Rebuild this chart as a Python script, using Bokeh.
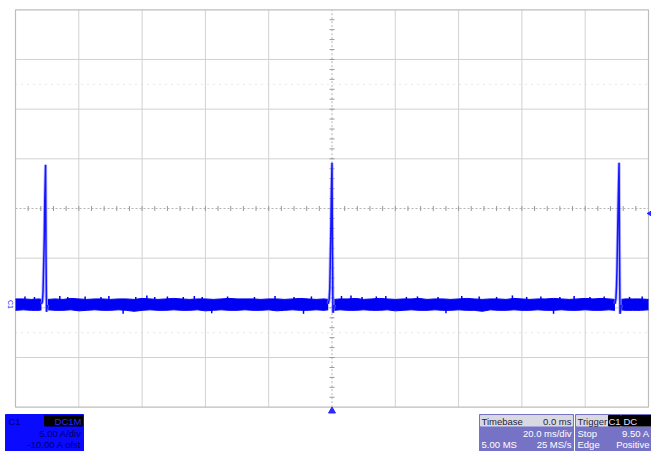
import math
from bokeh.plotting import figure
from bokeh.models import Range1d
from bokeh.core.properties import value
from bokeh.embed import file_html
from bokeh.resources import INLINE

# ---------------- data ----------------
ms_per_div = 20.0
amps_per_div = 5.0
time_ticks = [-100, -80, -60, -40, -20, 0, 20, 40, 60, 80, 100]      # ms, 10 divisions
amp_ticks = [-10, -5, 0, 5, 10, 15, 20, 25, 30]                      # A, 8 divisions (offset -10 A)
marker_levels = [22.5, -2.5]
trigger_time = 0.0
trigger_level = 9.5

spike_peaks = [-90.5, 0.0, 90.7]

spike1_t = [-91.8, -91.5, -91.3, -91.15, -90.9, -90.75, -90.5, -90.35, -90.2, -89.9]
spike1_a = [0.4, 0.6, 1.6, 3.6, 7.1, 10.8, 14.4, 5.0, -0.4, 0.3]
spike2_t = [-1.2, -0.9, -0.7, -0.55, -0.35, -0.2, 0.0, 0.15, 0.3, 0.7]
spike2_a = [0.4, 0.8, 2.0, 4.5, 8.0, 11.5, 14.6, 6.0, -0.5, 0.3]
spike3_t = [89.4, 89.7, 89.9, 90.05, 90.25, 90.45, 90.7, 90.85, 91.0, 91.4]
spike3_a = [0.4, 0.9, 2.2, 4.0, 7.5, 11.0, 14.6, 5.5, -0.6, 0.3]

band_t = [-100, -97.5, -95, -92.5, -91.8,
          -89.8, -87.5, -85, -82.5, -80, -77.5, -75, -72.5, -70, -67.5, -65, -62.5,
          -60, -57.5, -55, -52.5, -50, -47.5, -45, -42.5, -40, -37.5, -35, -32.5,
          -30, -27.5, -25, -22.5, -20, -17.5, -15, -12.5, -10, -7.5, -5, -2.5, -1.2,
          0.7, 2.5, 5, 7.5, 10, 12.5, 15, 17.5, 20, 22.5, 25, 27.5, 30, 32.5, 35, 37.5,
          40, 42.5, 45, 47.5, 50, 52.5, 55, 57.5, 60, 62.5, 65, 67.5, 70, 72.5, 75,
          77.5, 80, 82.5, 85, 87.5, 89.4,
          91.4, 92.5, 95, 97.5, 100]
band_hi = [0.9, 0.9, 0.85, 0.9, 0.85,
           0.85, 0.9, 0.85, 0.95, 0.9, 0.85, 0.9, 0.9, 0.85, 0.9, 0.9, 0.85, 0.95, 0.9, 0.85,
           0.9, 0.95, 0.9, 0.85, 0.9, 0.9, 0.85, 0.9, 0.95, 0.9, 0.9, 0.9, 0.85, 0.9, 0.9,
           0.85, 0.9, 0.95, 0.9, 0.85, 0.9, 0.85,
           0.85, 0.9, 0.9, 0.95, 0.85, 0.9, 0.95, 0.9, 0.85, 0.9, 0.9, 0.95, 0.85, 0.9, 0.9,
           0.85, 0.9, 0.95, 0.9, 0.85, 0.9, 0.9, 0.85, 0.95, 0.9, 0.85, 0.9, 0.9, 0.95, 0.9,
           0.85, 0.9, 0.95, 0.9, 0.95, 0.9, 0.85,
           0.85, 0.9, 0.9, 0.9, 0.85]
band_lo = [-0.25, -0.2, -0.25, -0.25, -0.2,
           -0.2, -0.25, -0.25, -0.2, -0.3, -0.25, -0.2, -0.25, -0.25, -0.2, -0.25, -0.35, -0.25,
           -0.2, -0.25, -0.25, -0.2, -0.25, -0.25, -0.2, -0.3, -0.25, -0.2, -0.25, -0.25, -0.2,
           -0.25, -0.25, -0.2, -0.3, -0.25, -0.2, -0.25, -0.25, -0.2, -0.25, -0.2,
           -0.25, -0.2, -0.25, -0.25, -0.2, -0.25, -0.25, -0.2, -0.3, -0.25, -0.2, -0.25, -0.25,
           -0.2, -0.25, -0.25, -0.2, -0.25, -0.25, -0.35, -0.2, -0.25, -0.25, -0.2, -0.25, -0.25,
           -0.2, -0.25, -0.25, -0.2, -0.25, -0.25, -0.2, -0.25, -0.25, -0.2, -0.25,
           -0.2, -0.25, -0.25, -0.25, -0.2]
assert len(band_t) == len(band_hi) == len(band_lo)

# small noise glitches sticking out of the baseline band
glitch_t = [-97.0, -94.0, -86.0, -83.5, -78.0, -73.0, -70.5, -62.0, -58.5, -56.0, -52.0, -47.0,
            -43.5, -41.0, -33.0, -24.5, -18.0, -12.0, -6.5, 3.0, 6.0, 9.5, 14.0, 17.0, 23.5, 27.0,
            33.5, 41.0, 46.5, 52.0, 57.0, 61.5, 66.0, 72.0, 76.5, 81.5, 86.0, 94.0, 98.0]
glitch_a = [1.15, 1.1, 1.2, 1.1, 1.15, 1.1, 1.2, 1.1, 1.25, 1.1, 1.15, 1.1,
            1.2, 1.1, 1.15, 1.1, 1.2, 1.1, 1.15, 1.2, 1.25, 1.1, 1.15, 1.2, 1.1, 1.15,
            1.1, 1.2, 1.15, 1.1, 1.25, 1.1, 1.15, 1.1, 1.2, 1.1, 1.15, 1.1, 1.15]
dip_t = [-66.0, -38.0, -9.0, 36.0, 70.0]
dip_a = [-0.6, -0.55, -0.6, -0.55, -0.6]

channel_label = "C1"
channel_chip = "DC1M"
channel_rows = ["5.00 A/div", "-10.00 A ofst"]
timebase_header = ["Timebase", "0.0 ms"]
timebase_row2 = "20.0 ms/div"
timebase_row3 = ["5.00 MS", "25 MS/s"]
trigger_header = "Trigger"
trigger_chips = ["C1", "DC"]
trigger_row2 = ["Stop", "9.50 A"]
trigger_row3 = ["Edge", "Positive"]

# ---------------- layout ----------------
W, H = 651, 451
GL, GR, GT, GB = 15.0, 648.0, 9.3, 406.7          # grid box in canvas pixels
px_ms = (GR - GL) / (time_ticks[-1] - time_ticks[0])
px_A = (GB - GT) / (amp_ticks[-1] - amp_ticks[0])
x_start = time_ticks[0] - GL / px_ms
x_end = time_ticks[-1] + (W - GR) / px_ms
y_end = amp_ticks[-1] + GT / px_A
y_start = amp_ticks[0] - (H - GB) / px_A


def X(px):
    return x_start + px / px_ms


def Y(py):
    return y_end - py / px_A


p = figure(width=W, height=H, x_range=Range1d(x_start, x_end), y_range=Range1d(y_start, y_end),
           output_backend="svg", toolbar_location=None, min_border=0,
           x_axis_type=None, y_axis_type=None, outline_line_color=None,
           background_fill_color="white", border_fill_color="white")

t0, t1 = time_ticks[0], time_ticks[-1]
a0, a1 = amp_ticks[0], amp_ticks[-1]
center_t = time_ticks[len(time_ticks) // 2]
center_a = amp_ticks[len(amp_ticks) // 2]
GRID = "#d2d2d2"

# grid lines
vx = [t for t in time_ticks[1:-1] if t != center_t]
p.segment(x0=vx, y0=[a0] * len(vx), x1=vx, y1=[a1] * len(vx), line_color=GRID, line_width=1)
hy = [a for a in amp_ticks[1:-1] if a != center_a]
p.segment(x0=[t0] * len(hy), y0=hy, x1=[t1] * len(hy), y1=hy, line_color=GRID, line_width=1)
# faint dotted level lines
p.segment(x0=[t0] * 2, y0=marker_levels, x1=[t1] * 2, y1=marker_levels,
          line_color="#cfcfcf", line_width=1, line_dash="1 5")
# center cross with sub-division ticks
p.segment(x0=[t0], y0=[center_a], x1=[t1], y1=[center_a], line_color="#b4b4b4", line_width=1, line_dash="2 2")
p.segment(x0=[center_t], y0=[a0], x1=[center_t], y1=[a1], line_color="#b4b4b4", line_width=1, line_dash="2 2")
sub_t = [t0 + i * ms_per_div / 5 for i in range(1, 50)]
p.segment(x0=sub_t, y0=[center_a - 2.5 / px_A] * len(sub_t), x1=sub_t, y1=[center_a + 2.5 / px_A] * len(sub_t),
          line_color="#9a9a9a", line_width=1)
sub_a = [a0 + i * amps_per_div / 5 for i in range(1, 40)]
p.segment(x0=[center_t - 2.5 / px_ms] * len(sub_a), y0=sub_a, x1=[center_t + 2.5 / px_ms] * len(sub_a), y1=sub_a,
          line_color="#9a9a9a", line_width=1)
# frame
p.quad(left=[t0], right=[t1], bottom=[a0], top=[a1], fill_color=None, line_color="#bdbdbd", line_width=1.2)

# ---------------- trace ----------------
TRACE = "#0000f2"
seg_start = 0
for i in range(1, len(band_t) + 1):
    brk = i == len(band_t) or any(band_t[i - 1] < sp < band_t[i] for sp in spike_peaks)
    if brk:
        xs = band_t[seg_start:i]
        p.varea(x=xs, y1=band_lo[seg_start:i], y2=band_hi[seg_start:i], fill_color=TRACE)
        p.line(xs, band_hi[seg_start:i], line_color=TRACE, line_width=1)
        p.line(xs, band_lo[seg_start:i], line_color=TRACE, line_width=1)
        seg_start = i

p.segment(x0=glitch_t, y0=[0.5] * len(glitch_t), x1=glitch_t, y1=glitch_a, line_color=TRACE, line_width=1.5)
p.segment(x0=dip_t, y0=[0.0] * len(dip_t), x1=dip_t, y1=dip_a, line_color=TRACE, line_width=1.5)

for st, sa in [(spike1_t, spike1_a), (spike2_t, spike2_a), (spike3_t, spike3_a)]:
    p.line(st, sa, line_color="#8c8cff", line_width=3.2, line_alpha=0.6)
    p.line(st, sa, line_color="#1414ff", line_width=1.5)

# channel / trigger markers
p.text(x=[X(9.5)], y=[0.35], text=[channel_label], angle=-math.pi / 2,
       text_font=value("Liberation Sans"), text_font_size="7px", text_color="#2a2aff",
       text_align="center", text_baseline="middle")
p.scatter(x=[trigger_time], y=[Y(410.5)], marker="triangle", size=7, fill_color="#2a2aff", line_color="#2a2aff")
p.scatter(x=[X(649.5)], y=[trigger_level], marker="triangle", angle=math.pi / 2, size=5,
          fill_color="#2a2aff", line_color="#2a2aff")

# ---------------- info boxes ----------------
FONT = value("Liberation Sans")


def box(x0, x1, y0, y1, color):
    p.quad(left=[X(x0)], right=[X(x1)], top=[Y(y0)], bottom=[Y(y1)], fill_color=color, line_color=color)


def txt(px, py, s, color, align="left", size="9.5px"):
    p.text(x=[X(px)], y=[Y(py)], text=[s], text_font=FONT, text_font_size=size, text_color=color,
           text_align=align, text_baseline="middle")


# channel box
box(5, 83, 414, 452, "#0a0aff")
box(44, 82, 415, 425.5, "#000000")
txt(8, 421, channel_label, "#00006a")
txt(81, 421, channel_chip, "#2a2aff", "right")
txt(81, 433, channel_rows[0], "#00006a", "right")
txt(81, 444, channel_rows[1], "#00006a", "right")

# timebase box
tbL, tbR = 479, 573
box(tbL, tbR, 414, 452, "#7673c6")
box(tbL + 1, tbR - 1, 415, 425.5, "#d9d9e3")
txt(tbL + 2, 420.5, timebase_header[0], "#1e1e3a")
txt(tbR - 2, 420.5, timebase_row2 and timebase_header[1], "#1e1e3a", "right")
txt(tbR - 2, 433, timebase_row2, "#ffffff", "right")
txt(tbL + 2, 443.5, timebase_row3[0], "#ffffff")
txt(tbR - 2, 443.5, timebase_row3[1], "#ffffff", "right")

# trigger box
trL, trR = 575, 652
box(trL, trR, 414, 452, "#7673c6")
box(trL + 1, trR, 415, 425.5, "#d9d9e3")
c1L, c1R, dcL = 608, 620, 621
box(c1L, c1R, 415, 425.5, "#000000")
box(dcL, trR, 415, 425.5, "#000000")
txt(trL + 2, 420.5, trigger_header, "#1e1e3a")
txt((c1L + c1R) / 2, 420.5, trigger_chips[0], "#e0e0ff", "center")
txt(dcL + 2, 420.5, trigger_chips[1], "#e0e0ff")
txt(trL + 2, 433, trigger_row2[0], "#ffffff")
txt(649, 433, trigger_row2[1], "#ffffff", "right")
txt(trL + 2, 443.5, trigger_row3[0], "#ffffff")
txt(649, 443.5, trigger_row3[1], "#ffffff", "right")

open("out.html", "w").write(file_html(p, INLINE))
